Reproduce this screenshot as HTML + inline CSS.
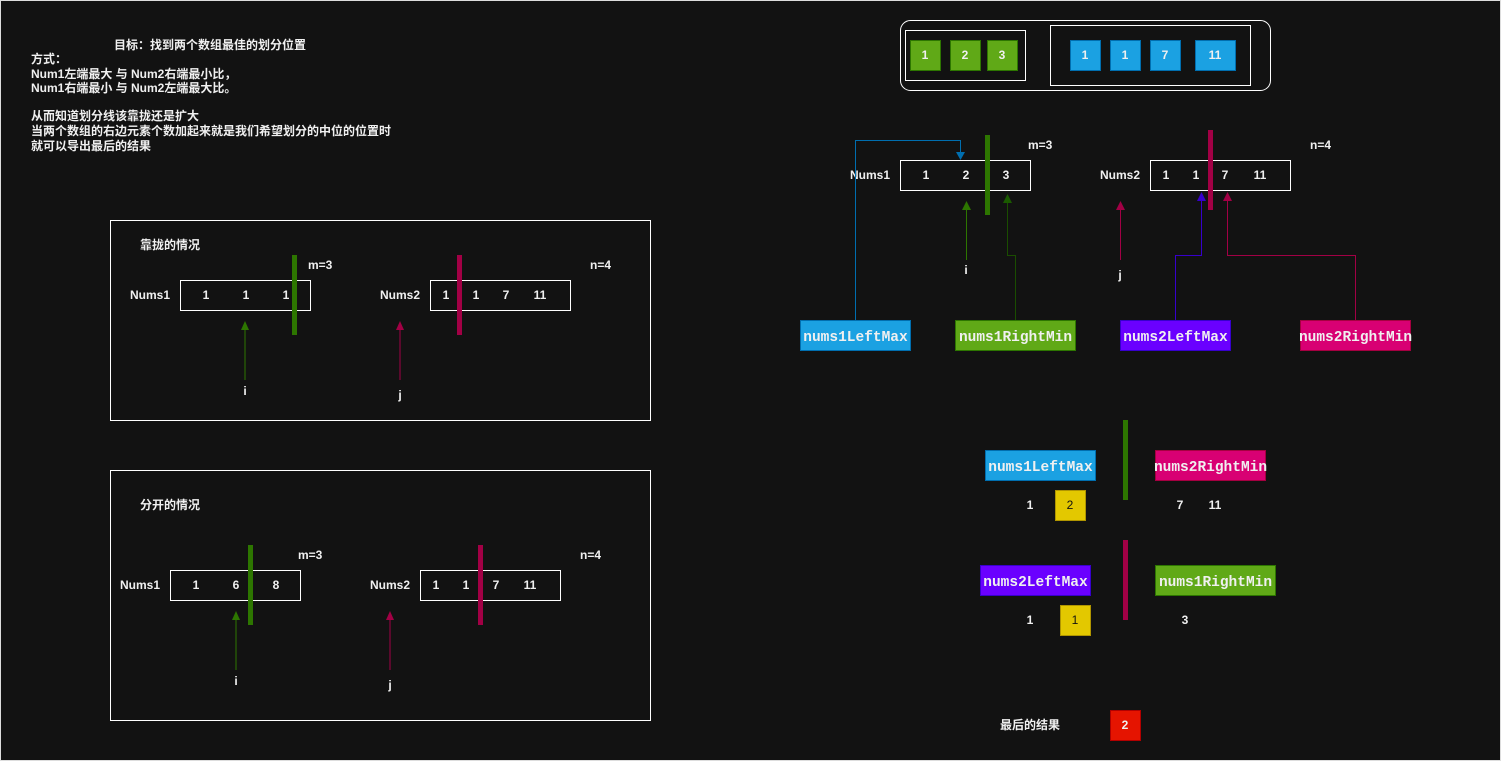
<!DOCTYPE html>
<html><head><meta charset="utf-8"><style>
html,body{margin:0;padding:0;background:#121212;}
svg{display:block;}
text{font-family:"Liberation Sans","Noto Sans CJK SC",sans-serif;font-size:12px;font-weight:bold;fill:#f0f0f0;}
.m{font-family:"Liberation Mono","DejaVu Sans Mono",monospace;font-size:14.5px;font-weight:bold;}
</style></head><body>
<svg width="1501" height="761" viewBox="0 0 1501 761" xmlns="http://www.w3.org/2000/svg">
<rect x="0.5" y="0.5" width="1500" height="760" fill="#121212" stroke="#ddd" stroke-width="1"/>

<text x="210" y="49" text-anchor="middle">目标：找到两个数组最佳的划分位置</text>
<text x="31" y="63">方式：</text>
<text x="31" y="78">Num1左端最大 与 Num2右端最小比，</text>
<text x="31" y="92">Num1右端最小 与 Num2左端最大比。</text>
<text x="31" y="120">从而知道划分线该靠拢还是扩大</text>
<text x="31" y="135">当两个数组的右边元素个数加起来就是我们希望划分的中位的位置时</text>
<text x="31" y="150">就可以导出最后的结果</text>

<rect x="110.5" y="220.5" width="540" height="200" fill="none" stroke="#fff"/>
<text x="140" y="249">靠拢的情况</text>
<text x="150" y="299" text-anchor="middle">Nums1</text>
<rect x="180.5" y="280.5" width="130" height="30" fill="none" stroke="#fff"/>
<text x="206" y="299" text-anchor="middle">1</text><text x="246" y="299" text-anchor="middle">1</text><text x="286" y="299" text-anchor="middle">1</text>
<rect x="292" y="255" width="5" height="80" fill="#2d7600"/>
<text x="308" y="269">m=3</text>
<text x="400" y="299" text-anchor="middle">Nums2</text>
<rect x="430.5" y="280.5" width="140" height="30" fill="none" stroke="#fff"/>
<text x="446" y="299" text-anchor="middle">1</text><text x="476" y="299" text-anchor="middle">1</text><text x="506" y="299" text-anchor="middle">7</text><text x="540" y="299" text-anchor="middle">11</text>
<rect x="457" y="255" width="5" height="80" fill="#a20045"/>
<text x="590" y="269">n=4</text>
<line x1="245" y1="380" x2="245" y2="328" stroke="#2d7600"/><path d="M241,330 L245,321 L249,330Z" fill="#2d7600"/>
<text x="245" y="395" text-anchor="middle">i</text>
<line x1="400" y1="380" x2="400" y2="328" stroke="#a20045"/><path d="M396,330 L400,321 L404,330Z" fill="#a20045"/>
<text x="400" y="399" text-anchor="middle">j</text>

<rect x="110.5" y="470.5" width="540" height="250" fill="none" stroke="#fff"/>
<text x="140" y="509">分开的情况</text>
<text x="140" y="589" text-anchor="middle">Nums1</text>
<rect x="170.5" y="570.5" width="130" height="30" fill="none" stroke="#fff"/>
<text x="196" y="589" text-anchor="middle">1</text><text x="236" y="589" text-anchor="middle">6</text><text x="276" y="589" text-anchor="middle">8</text>
<rect x="248" y="545" width="5" height="80" fill="#2d7600"/>
<text x="298" y="559">m=3</text>
<text x="390" y="589" text-anchor="middle">Nums2</text>
<rect x="420.5" y="570.5" width="140" height="30" fill="none" stroke="#fff"/>
<text x="436" y="589" text-anchor="middle">1</text><text x="466" y="589" text-anchor="middle">1</text><text x="496" y="589" text-anchor="middle">7</text><text x="530" y="589" text-anchor="middle">11</text>
<rect x="478" y="545" width="5" height="80" fill="#a20045"/>
<text x="580" y="559">n=4</text>
<line x1="236" y1="670" x2="236" y2="618" stroke="#2d7600"/><path d="M232,620 L236,611 L240,620Z" fill="#2d7600"/>
<text x="236" y="685" text-anchor="middle">i</text>
<line x1="390" y1="670" x2="390" y2="618" stroke="#a20045"/><path d="M386,620 L390,611 L394,620Z" fill="#a20045"/>
<text x="390" y="689" text-anchor="middle">j</text>

<rect x="900.5" y="20.5" width="370" height="70" rx="10" fill="none" stroke="#fff"/>
<rect x="905.5" y="30.5" width="120" height="50" fill="none" stroke="#fff"/>
<g stroke="#2d7600" fill="#60a917">
<rect x="910.5" y="40.5" width="30" height="30"/><rect x="950.5" y="40.5" width="30" height="30"/><rect x="987.5" y="40.5" width="30" height="30"/></g>
<text x="925" y="59" text-anchor="middle">1</text><text x="965" y="59" text-anchor="middle">2</text><text x="1002" y="59" text-anchor="middle">3</text>
<rect x="1050.5" y="25.5" width="200" height="60" fill="none" stroke="#fff"/>
<g stroke="#006eaf" fill="#1ba1e2">
<rect x="1070.5" y="40.5" width="30" height="30"/><rect x="1110.5" y="40.5" width="30" height="30"/><rect x="1150.5" y="40.5" width="30" height="30"/><rect x="1195.5" y="40.5" width="40" height="30"/></g>
<text x="1085" y="59" text-anchor="middle">1</text><text x="1125" y="59" text-anchor="middle">1</text><text x="1165" y="59" text-anchor="middle">7</text><text x="1215" y="59" text-anchor="middle">11</text>

<text x="870" y="179" text-anchor="middle">Nums1</text>
<rect x="900.5" y="160.5" width="130" height="30" fill="none" stroke="#fff"/>
<text x="926" y="179" text-anchor="middle">1</text><text x="966" y="179" text-anchor="middle">2</text><text x="1006" y="179" text-anchor="middle">3</text>
<rect x="985" y="135" width="5" height="80" fill="#2d7600"/>
<text x="1028" y="149">m=3</text>
<text x="1120" y="179" text-anchor="middle">Nums2</text>
<rect x="1150.5" y="160.5" width="140" height="30" fill="none" stroke="#fff"/>
<text x="1166" y="179" text-anchor="middle">1</text><text x="1196" y="179" text-anchor="middle">1</text><text x="1225" y="179" text-anchor="middle">7</text><text x="1260" y="179" text-anchor="middle">11</text>
<rect x="1208" y="130" width="5" height="80" fill="#a20045"/>
<text x="1310" y="149">n=4</text>

<polyline points="855.5,320 855.5,140.5 960.5,140.5 960.5,153" fill="none" stroke="#006eaf"/><path d="M956,152 L960.5,160 L965,152Z" fill="#006eaf"/>
<line x1="966.5" y1="260" x2="966.5" y2="208" stroke="#2d7600"/><path d="M962,210 L966.5,201 L971,210Z" fill="#2d7600"/>
<text x="966" y="274" text-anchor="middle">i</text>
<polyline points="1015.5,320 1015.5,255.5 1007.5,255.5 1007.5,200" fill="none" stroke="#1a4d00"/><path d="M1003,203 L1007.5,194 L1012,203Z" fill="#1a5a00"/>
<line x1="1120.5" y1="260" x2="1120.5" y2="208" stroke="#a20045"/><path d="M1116,210 L1120.5,201 L1125,210Z" fill="#a20045"/>
<text x="1120" y="279" text-anchor="middle">j</text>
<polyline points="1175.5,320 1175.5,255.5 1201.5,255.5 1201.5,199" fill="none" stroke="#3700cc"/><path d="M1197,201 L1201.5,192 L1206,201Z" fill="#3700cc"/>
<polyline points="1355.5,320 1355.5,255.5 1227.5,255.5 1227.5,199" fill="none" stroke="#a20045"/><path d="M1223,201 L1227.5,192 L1232,201Z" fill="#a20045"/>

<rect x="800.5" y="320.5" width="110" height="30" fill="#1ba1e2" stroke="#006eaf"/><text class="m" x="855.5" y="341" text-anchor="middle">nums1LeftMax</text>
<rect x="955.5" y="320.5" width="120" height="30" fill="#60a917" stroke="#2d7600"/><text class="m" x="1015.5" y="341" text-anchor="middle">nums1RightMin</text>
<rect x="1120.5" y="320.5" width="110" height="30" fill="#6a00ff" stroke="#3700cc"/><text class="m" x="1175.5" y="341" text-anchor="middle">nums2LeftMax</text>
<rect x="1300.5" y="320.5" width="110" height="30" fill="#d80073" stroke="#a50040"/><text class="m" x="1355.5" y="341" text-anchor="middle">nums2RightMin</text>

<rect x="985.5" y="450.5" width="110" height="30" fill="#1ba1e2" stroke="#006eaf"/><text class="m" x="1040.5" y="471" text-anchor="middle">nums1LeftMax</text>
<rect x="1123" y="420" width="5" height="80" fill="#2d7600"/>
<rect x="1155.5" y="450.5" width="110" height="30" fill="#d80073" stroke="#a50040"/><text class="m" x="1210.5" y="471" text-anchor="middle">nums2RightMin</text>
<text x="1030" y="509" text-anchor="middle">1</text>
<rect x="1055.5" y="490.5" width="30" height="30" fill="#e3c800" stroke="#b09500"/><text x="1070" y="509" text-anchor="middle" style="fill:#111;font-weight:normal">2</text>
<text x="1180" y="509" text-anchor="middle">7</text><text x="1215" y="509" text-anchor="middle">11</text>

<rect x="980.5" y="565.5" width="110" height="30" fill="#6a00ff" stroke="#3700cc"/><text class="m" x="1035.5" y="586" text-anchor="middle">nums2LeftMax</text>
<rect x="1123" y="540" width="5" height="80" fill="#a20045"/>
<rect x="1155.5" y="565.5" width="120" height="30" fill="#60a917" stroke="#2d7600"/><text class="m" x="1215.5" y="586" text-anchor="middle">nums1RightMin</text>
<text x="1030" y="624" text-anchor="middle">1</text>
<rect x="1060.5" y="605.5" width="30" height="30" fill="#e3c800" stroke="#b09500"/><text x="1075" y="624" text-anchor="middle" style="fill:#111;font-weight:normal">1</text>
<text x="1185" y="624" text-anchor="middle">3</text>

<text x="1030" y="729" text-anchor="middle">最后的结果</text>
<rect x="1110.5" y="710.5" width="30" height="30" fill="#e51400" stroke="#b20000"/><text x="1125" y="729" text-anchor="middle">2</text>
</svg>
</body></html>
